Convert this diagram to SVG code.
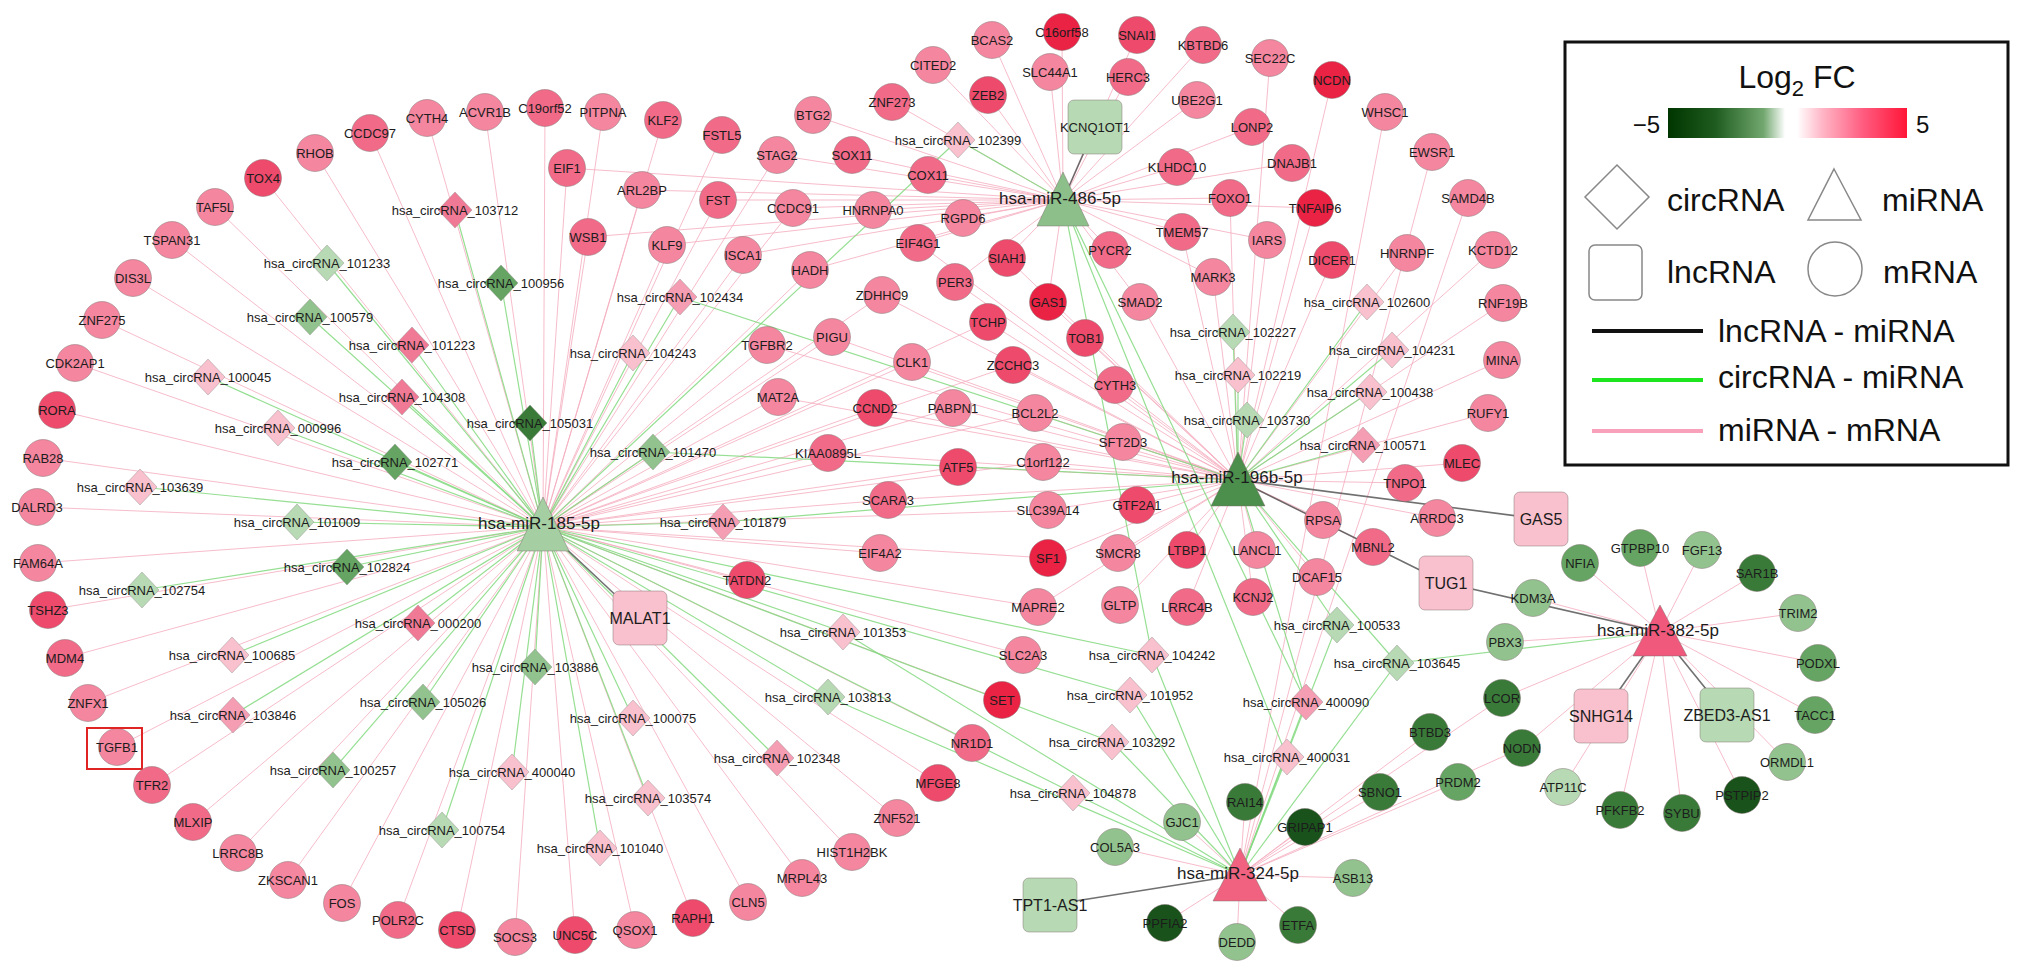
<svg xmlns="http://www.w3.org/2000/svg" xmlns:xlink="http://www.w3.org/1999/xlink" width="2032" height="975" viewBox="0 0 2032 975">
<defs>
<style>
.m{stroke:#7a6a6a;stroke-opacity:.45;stroke-width:1}
.r1{fill:#f8aabb}.r2{fill:#f4869f}.r3{fill:#f16a88}.r4{fill:#ee4a6b}.r5{fill:#ea2244}
.p1{fill:#f9c0cd}.p2{fill:#f59db2}.p3{fill:#f07a95}
.g1{fill:#b7d9b3}.g2{fill:#92c38e}.g3{fill:#65a462}.g4{fill:#3a7a39}.g5{fill:#1a521b}
text{font-family:"Liberation Sans",Arial,sans-serif;fill:#1c1c1c;text-anchor:middle}
.t{font-size:13px}
.tm{font-size:17px}
.tl{font-size:16px}
.e1{stroke:#f6adbf;stroke-width:1;opacity:.8}
.e2{stroke:#84da80;stroke-width:1.2;opacity:.85}
.e3{stroke:#4d4d4d;stroke-width:1.6;opacity:.8}
.lg{font-size:32px;fill:#111;text-anchor:start}
</style>
<polygon id="dia" points="0,-18 17,0 0,18 -17,0" stroke="#8a8a8a" stroke-opacity=".4"/>
<linearGradient id="fc" x1="0" x2="1" y1="0" y2="0">
<stop offset="0" stop-color="#003500"/><stop offset=".2" stop-color="#1f5c1f"/><stop offset=".4" stop-color="#72a86f"/><stop offset=".49" stop-color="#ffffff"/><stop offset=".54" stop-color="#ffffff"/><stop offset=".65" stop-color="#ffb3c4"/><stop offset=".82" stop-color="#ff5a7e"/><stop offset="1" stop-color="#ff1638"/>
</linearGradient>
</defs>
<rect width="2032" height="975" fill="#fff"/>
<g id="connectors">
<g id="mi185-mrna">
<line class="e1" x1="543" y1="527" x2="263" y2="178"/><line class="e1" x1="543" y1="527" x2="315" y2="153"/><line class="e1" x1="543" y1="527" x2="370" y2="133"/><line class="e1" x1="543" y1="527" x2="427" y2="118"/><line class="e1" x1="543" y1="527" x2="485" y2="112"/><line class="e1" x1="543" y1="527" x2="545" y2="108"/><line class="e1" x1="543" y1="527" x2="603" y2="112"/><line class="e1" x1="543" y1="527" x2="663" y2="120"/><line class="e1" x1="543" y1="527" x2="722" y2="135"/><line class="e1" x1="543" y1="527" x2="215" y2="207"/><line class="e1" x1="543" y1="527" x2="172" y2="240"/><line class="e1" x1="543" y1="527" x2="133" y2="278"/><line class="e1" x1="543" y1="527" x2="102" y2="320"/><line class="e1" x1="543" y1="527" x2="75" y2="363"/><line class="e1" x1="543" y1="527" x2="57" y2="410"/><line class="e1" x1="543" y1="527" x2="43" y2="458"/><line class="e1" x1="543" y1="527" x2="37" y2="507"/><line class="e1" x1="543" y1="527" x2="38" y2="563"/><line class="e1" x1="543" y1="527" x2="48" y2="610"/><line class="e1" x1="543" y1="527" x2="65" y2="658"/><line class="e1" x1="543" y1="527" x2="88" y2="703"/><line class="e1" x1="543" y1="527" x2="117" y2="747"/><line class="e1" x1="543" y1="527" x2="152" y2="785"/><line class="e1" x1="543" y1="527" x2="193" y2="822"/><line class="e1" x1="543" y1="527" x2="238" y2="853"/><line class="e1" x1="543" y1="527" x2="288" y2="880"/><line class="e1" x1="543" y1="527" x2="342" y2="903"/><line class="e1" x1="543" y1="527" x2="398" y2="920"/><line class="e1" x1="543" y1="527" x2="457" y2="930"/><line class="e1" x1="543" y1="527" x2="515" y2="937"/><line class="e1" x1="543" y1="527" x2="575" y2="935"/><line class="e1" x1="543" y1="527" x2="635" y2="930"/><line class="e1" x1="543" y1="527" x2="693" y2="918"/><line class="e1" x1="543" y1="527" x2="748" y2="902"/><line class="e1" x1="543" y1="527" x2="802" y2="878"/><line class="e1" x1="543" y1="527" x2="852" y2="852"/><line class="e1" x1="543" y1="527" x2="897" y2="818"/><line class="e1" x1="543" y1="527" x2="938" y2="783"/><line class="e1" x1="543" y1="527" x2="972" y2="743"/><line class="e1" x1="543" y1="527" x2="1002" y2="700"/><line class="e1" x1="543" y1="527" x2="1023" y2="655"/><line class="e1" x1="543" y1="527" x2="567" y2="168"/><line class="e1" x1="543" y1="527" x2="588" y2="237"/><line class="e1" x1="543" y1="527" x2="642" y2="190"/><line class="e1" x1="543" y1="527" x2="667" y2="245"/><line class="e1" x1="543" y1="527" x2="718" y2="200"/><line class="e1" x1="543" y1="527" x2="743" y2="255"/><line class="e1" x1="543" y1="527" x2="777" y2="155"/><line class="e1" x1="543" y1="527" x2="793" y2="208"/><line class="e1" x1="543" y1="527" x2="810" y2="270"/><line class="e1" x1="543" y1="527" x2="767" y2="345"/><line class="e1" x1="543" y1="527" x2="832" y2="337"/><line class="e1" x1="543" y1="527" x2="912" y2="362"/><line class="e1" x1="543" y1="527" x2="778" y2="397"/><line class="e1" x1="543" y1="527" x2="875" y2="408"/><line class="e1" x1="543" y1="527" x2="953" y2="408"/><line class="e1" x1="543" y1="527" x2="828" y2="453"/><line class="e1" x1="543" y1="527" x2="958" y2="467"/><line class="e1" x1="543" y1="527" x2="888" y2="500"/><line class="e1" x1="543" y1="527" x2="880" y2="553"/><line class="e1" x1="543" y1="527" x2="747" y2="580"/><line class="e1" x1="543" y1="527" x2="1013" y2="365"/><line class="e1" x1="543" y1="527" x2="1035" y2="413"/><line class="e1" x1="543" y1="527" x2="1043" y2="462"/><line class="e1" x1="543" y1="527" x2="1048" y2="510"/><line class="e1" x1="543" y1="527" x2="1048" y2="558"/><line class="e1" x1="543" y1="527" x2="1038" y2="607"/><line class="e1" x1="543" y1="527" x2="882" y2="295"/><line class="e1" x1="543" y1="527" x2="988" y2="322"/>
</g>
<g id="mi486-mrna">
<line class="e1" x1="1063" y1="200" x2="1062" y2="32"/><line class="e1" x1="1063" y1="200" x2="1137" y2="35"/><line class="e1" x1="1063" y1="200" x2="1203" y2="45"/><line class="e1" x1="1063" y1="200" x2="1050" y2="72"/><line class="e1" x1="1063" y1="200" x2="1128" y2="77"/><line class="e1" x1="1063" y1="200" x2="1197" y2="100"/><line class="e1" x1="1063" y1="200" x2="1252" y2="127"/><line class="e1" x1="1063" y1="200" x2="1177" y2="167"/><line class="e1" x1="1063" y1="200" x2="1292" y2="163"/><line class="e1" x1="1063" y1="200" x2="1230" y2="198"/><line class="e1" x1="1063" y1="200" x2="1315" y2="208"/><line class="e1" x1="1063" y1="200" x2="1182" y2="232"/><line class="e1" x1="1063" y1="200" x2="1267" y2="240"/><line class="e1" x1="1063" y1="200" x2="1110" y2="250"/><line class="e1" x1="1063" y1="200" x2="1213" y2="277"/><line class="e1" x1="1063" y1="200" x2="1048" y2="302"/><line class="e1" x1="1063" y1="200" x2="1140" y2="302"/><line class="e1" x1="1063" y1="200" x2="1007" y2="258"/><line class="e1" x1="1063" y1="200" x2="992" y2="40"/><line class="e1" x1="1063" y1="200" x2="933" y2="65"/><line class="e1" x1="1063" y1="200" x2="988" y2="95"/><line class="e1" x1="1063" y1="200" x2="892" y2="102"/><line class="e1" x1="1063" y1="200" x2="928" y2="175"/><line class="e1" x1="1063" y1="200" x2="963" y2="218"/><line class="e1" x1="1063" y1="200" x2="852" y2="155"/><line class="e1" x1="1063" y1="200" x2="813" y2="115"/><line class="e1" x1="1063" y1="200" x2="918" y2="243"/><line class="e1" x1="1063" y1="200" x2="873" y2="210"/><line class="e1" x1="1063" y1="200" x2="567" y2="168"/><line class="e1" x1="1063" y1="200" x2="642" y2="190"/><line class="e1" x1="1063" y1="200" x2="588" y2="237"/><line class="e1" x1="1063" y1="200" x2="667" y2="245"/><line class="e1" x1="1063" y1="200" x2="718" y2="200"/><line class="e1" x1="1063" y1="200" x2="793" y2="208"/><line class="e1" x1="1063" y1="200" x2="777" y2="155"/><line class="e1" x1="1063" y1="200" x2="955" y2="282"/><line class="e1" x1="1063" y1="200" x2="743" y2="255"/><line class="e1" x1="1063" y1="200" x2="810" y2="270"/>
</g>
<g id="mi196-mrna">
<line class="e1" x1="1238" y1="480" x2="1493" y2="250"/><line class="e1" x1="1238" y1="480" x2="1407" y2="253"/><line class="e1" x1="1238" y1="480" x2="1332" y2="260"/><line class="e1" x1="1238" y1="480" x2="1503" y2="303"/><line class="e1" x1="1238" y1="480" x2="1502" y2="360"/><line class="e1" x1="1238" y1="480" x2="1488" y2="413"/><line class="e1" x1="1238" y1="480" x2="1462" y2="463"/><line class="e1" x1="1238" y1="480" x2="1405" y2="483"/><line class="e1" x1="1238" y1="480" x2="1437" y2="518"/><line class="e1" x1="1238" y1="480" x2="1323" y2="520"/><line class="e1" x1="1238" y1="480" x2="1373" y2="547"/><line class="e1" x1="1238" y1="480" x2="1317" y2="577"/><line class="e1" x1="1238" y1="480" x2="1253" y2="597"/><line class="e1" x1="1238" y1="480" x2="1257" y2="550"/><line class="e1" x1="1238" y1="480" x2="1187" y2="550"/><line class="e1" x1="1238" y1="480" x2="1187" y2="607"/><line class="e1" x1="1238" y1="480" x2="1120" y2="605"/><line class="e1" x1="1238" y1="480" x2="1118" y2="553"/><line class="e1" x1="1238" y1="480" x2="1137" y2="505"/><line class="e1" x1="1238" y1="480" x2="1048" y2="558"/><line class="e1" x1="1238" y1="480" x2="1048" y2="510"/><line class="e1" x1="1238" y1="480" x2="1043" y2="462"/><line class="e1" x1="1238" y1="480" x2="1123" y2="442"/><line class="e1" x1="1238" y1="480" x2="1035" y2="413"/><line class="e1" x1="1238" y1="480" x2="1115" y2="385"/><line class="e1" x1="1238" y1="480" x2="1085" y2="338"/><line class="e1" x1="1238" y1="480" x2="1013" y2="365"/><line class="e1" x1="1238" y1="480" x2="1038" y2="607"/><line class="e1" x1="1238" y1="480" x2="988" y2="322"/><line class="e1" x1="1238" y1="480" x2="1007" y2="258"/><line class="e1" x1="1238" y1="480" x2="955" y2="282"/><line class="e1" x1="1238" y1="480" x2="912" y2="362"/><line class="e1" x1="1238" y1="480" x2="953" y2="408"/><line class="e1" x1="1238" y1="480" x2="958" y2="467"/><line class="e1" x1="1238" y1="480" x2="875" y2="408"/><line class="e1" x1="1238" y1="480" x2="888" y2="500"/><line class="e1" x1="1238" y1="480" x2="828" y2="453"/><line class="e1" x1="1238" y1="480" x2="832" y2="337"/><line class="e1" x1="1238" y1="480" x2="767" y2="345"/><line class="e1" x1="1238" y1="480" x2="778" y2="397"/><line class="e1" x1="1238" y1="480" x2="882" y2="295"/><line class="e1" x1="1238" y1="480" x2="1267" y2="240"/><line class="e1" x1="1238" y1="480" x2="1213" y2="277"/><line class="e1" x1="1238" y1="480" x2="1230" y2="198"/><line class="e1" x1="1238" y1="480" x2="1182" y2="232"/><line class="e1" x1="1238" y1="480" x2="1315" y2="208"/><line class="e1" x1="1238" y1="480" x2="1332" y2="80"/><line class="e1" x1="1238" y1="480" x2="1270" y2="58"/><line class="e1" x1="1238" y1="480" x2="1048" y2="302"/><line class="e1" x1="1238" y1="480" x2="1140" y2="302"/><line class="e1" x1="1238" y1="480" x2="918" y2="243"/>
</g>
<g id="mi324-mrna">
<line class="e1" x1="1240" y1="875" x2="1385" y2="112"/><line class="e1" x1="1240" y1="875" x2="1432" y2="152"/><line class="e1" x1="1240" y1="875" x2="1468" y2="198"/><line class="e1" x1="1240" y1="875" x2="1245" y2="802"/><line class="e1" x1="1240" y1="875" x2="1182" y2="822"/><line class="e1" x1="1240" y1="875" x2="1115" y2="847"/><line class="e1" x1="1240" y1="875" x2="1353" y2="878"/><line class="e1" x1="1240" y1="875" x2="1165" y2="923"/><line class="e1" x1="1240" y1="875" x2="1237" y2="942"/><line class="e1" x1="1240" y1="875" x2="1298" y2="925"/><line class="e1" x1="1240" y1="875" x2="1305" y2="827"/><line class="e1" x1="1240" y1="875" x2="1380" y2="792"/><line class="e1" x1="1240" y1="875" x2="1458" y2="782"/><line class="e1" x1="1240" y1="875" x2="1430" y2="732"/><line class="e1" x1="1240" y1="875" x2="1502" y2="698"/><line class="e1" x1="1240" y1="875" x2="1522" y2="748"/>
</g>
<g id="mi382-mrna">
<line class="e1" x1="1660" y1="632" x2="1580" y2="563"/><line class="e1" x1="1660" y1="632" x2="1640" y2="548"/><line class="e1" x1="1660" y1="632" x2="1702" y2="550"/><line class="e1" x1="1660" y1="632" x2="1757" y2="573"/><line class="e1" x1="1660" y1="632" x2="1798" y2="613"/><line class="e1" x1="1660" y1="632" x2="1818" y2="663"/><line class="e1" x1="1660" y1="632" x2="1815" y2="715"/><line class="e1" x1="1660" y1="632" x2="1787" y2="762"/><line class="e1" x1="1660" y1="632" x2="1742" y2="795"/><line class="e1" x1="1660" y1="632" x2="1682" y2="813"/><line class="e1" x1="1660" y1="632" x2="1620" y2="810"/><line class="e1" x1="1660" y1="632" x2="1563" y2="787"/><line class="e1" x1="1660" y1="632" x2="1533" y2="598"/><line class="e1" x1="1660" y1="632" x2="1505" y2="642"/><line class="e1" x1="1660" y1="632" x2="1522" y2="748"/><line class="e1" x1="1660" y1="632" x2="1502" y2="698"/>
</g>
<g id="circ-mirna">
<line class="e2" x1="543" y1="527" x2="455" y2="210"/><line class="e2" x1="543" y1="527" x2="327" y2="263"/><line class="e2" x1="543" y1="527" x2="501" y2="283"/><line class="e2" x1="543" y1="527" x2="310" y2="317"/><line class="e2" x1="543" y1="527" x2="412" y2="345"/><line class="e2" x1="543" y1="527" x2="208" y2="377"/><line class="e2" x1="543" y1="527" x2="402" y2="397"/><line class="e2" x1="543" y1="527" x2="530" y2="423"/><line class="e2" x1="543" y1="527" x2="278" y2="428"/><line class="e2" x1="543" y1="527" x2="395" y2="462"/><line class="e2" x1="543" y1="527" x2="140" y2="487"/><line class="e2" x1="543" y1="527" x2="297" y2="522"/><line class="e2" x1="543" y1="527" x2="347" y2="567"/><line class="e2" x1="543" y1="527" x2="142" y2="590"/><line class="e2" x1="543" y1="527" x2="418" y2="623"/><line class="e2" x1="543" y1="527" x2="232" y2="655"/><line class="e2" x1="543" y1="527" x2="535" y2="667"/><line class="e2" x1="543" y1="527" x2="233" y2="715"/><line class="e2" x1="543" y1="527" x2="423" y2="702"/><line class="e2" x1="543" y1="527" x2="333" y2="770"/><line class="e2" x1="543" y1="527" x2="512" y2="772"/><line class="e2" x1="543" y1="527" x2="442" y2="830"/><line class="e2" x1="543" y1="527" x2="633" y2="718"/><line class="e2" x1="543" y1="527" x2="648" y2="798"/><line class="e2" x1="543" y1="527" x2="600" y2="848"/><line class="e2" x1="543" y1="527" x2="777" y2="758"/><line class="e2" x1="543" y1="527" x2="828" y2="697"/><line class="e2" x1="543" y1="527" x2="843" y2="632"/><line class="e2" x1="543" y1="527" x2="723" y2="522"/><line class="e2" x1="543" y1="527" x2="653" y2="452"/><line class="e2" x1="543" y1="527" x2="633" y2="353"/><line class="e2" x1="543" y1="527" x2="680" y2="297"/><line class="e2" x1="543" y1="527" x2="958" y2="140"/><line class="e2" x1="543" y1="527" x2="1152" y2="655"/><line class="e2" x1="543" y1="527" x2="1130" y2="695"/><line class="e2" x1="543" y1="527" x2="1112" y2="742"/><line class="e2" x1="543" y1="527" x2="1073" y2="793"/>
<line class="e2" x1="1238" y1="480" x2="1233" y2="332"/><line class="e2" x1="1238" y1="480" x2="1238" y2="375"/><line class="e2" x1="1238" y1="480" x2="1247" y2="420"/><line class="e2" x1="1238" y1="480" x2="1392" y2="350"/><line class="e2" x1="1238" y1="480" x2="1370" y2="392"/><line class="e2" x1="1238" y1="480" x2="1363" y2="445"/><line class="e2" x1="1238" y1="480" x2="1367" y2="302"/><line class="e2" x1="1238" y1="480" x2="1337" y2="625"/><line class="e2" x1="1238" y1="480" x2="1397" y2="663"/><line class="e2" x1="1238" y1="480" x2="1306" y2="702"/><line class="e2" x1="1238" y1="480" x2="723" y2="522"/><line class="e2" x1="1238" y1="480" x2="653" y2="452"/><line class="e2" x1="1238" y1="480" x2="680" y2="297"/>
<line class="e2" x1="1063" y1="200" x2="958" y2="140"/><line class="e2" x1="1063" y1="200" x2="1152" y2="655"/><line class="e2" x1="1063" y1="200" x2="1306" y2="702"/><line class="e2" x1="1063" y1="200" x2="1287" y2="757"/>
<line class="e2" x1="1240" y1="875" x2="828" y2="697"/><line class="e2" x1="1240" y1="875" x2="843" y2="632"/><line class="e2" x1="1240" y1="875" x2="1337" y2="625"/><line class="e2" x1="1240" y1="875" x2="1397" y2="663"/><line class="e2" x1="1240" y1="875" x2="1152" y2="655"/><line class="e2" x1="1240" y1="875" x2="1130" y2="695"/><line class="e2" x1="1240" y1="875" x2="1112" y2="742"/><line class="e2" x1="1240" y1="875" x2="1073" y2="793"/><line class="e2" x1="1240" y1="875" x2="1306" y2="702"/><line class="e2" x1="1240" y1="875" x2="1287" y2="757"/>
<line class="e2" x1="1660" y1="632" x2="1397" y2="663"/>
</g>
<g id="lnc-mirna">
<line class="e3" x1="543" y1="527" x2="640" y2="618"/><line class="e3" x1="1063" y1="200" x2="1095" y2="127"/><line class="e3" x1="1238" y1="480" x2="1541" y2="519"/><line class="e3" x1="1238" y1="480" x2="1446" y2="583"/><line class="e3" x1="1660" y1="632" x2="1446" y2="583"/><line class="e3" x1="1660" y1="632" x2="1601" y2="716"/><line class="e3" x1="1660" y1="632" x2="1727" y2="715"/><line class="e3" x1="1240" y1="875" x2="1050" y2="905"/>
</g>
</g>
<g id="lncRNAs">
<g id="KCNQ1OT1"><rect class="m g1" x="1068" y="100" width="54" height="54" rx="6"/><text class="t" x="1095" y="131.5">KCNQ1OT1</text></g>
<g id="MALAT1"><rect class="m p1" x="613" y="591" width="54" height="54" rx="6"/><text class="tl" x="640" y="624">MALAT1</text></g>
<g id="GAS5"><rect class="m p1" x="1514" y="492" width="54" height="54" rx="6"/><text class="tl" x="1541" y="525">GAS5</text></g>
<g id="TUG1"><rect class="m p1" x="1419" y="556" width="54" height="54" rx="6"/><text class="tl" x="1446" y="589">TUG1</text></g>
<g id="SNHG14"><rect class="m p1" x="1574" y="689" width="54" height="54" rx="6"/><text class="tl" x="1601" y="722">SNHG14</text></g>
<g id="ZBED3-AS1"><rect class="m g1" x="1700" y="688" width="54" height="54" rx="6"/><text class="tl" x="1727" y="721">ZBED3-AS1</text></g>
<g id="TPT1-AS1"><rect class="m g1" x="1023" y="878" width="54" height="54" rx="6"/><text class="tl" x="1050" y="911">TPT1-AS1</text></g>
</g>
<g id="mRNAs">
<g id="TOX4"><circle class="m r4" cx="263" cy="178" r="18.5"/><text class="t" x="263" y="182.5">TOX4</text></g>
<g id="RHOB"><circle class="m r2" cx="315" cy="153" r="18.5"/><text class="t" x="315" y="157.5">RHOB</text></g>
<g id="CCDC97"><circle class="m r3" cx="370" cy="133" r="18.5"/><text class="t" x="370" y="137.5">CCDC97</text></g>
<g id="CYTH4"><circle class="m r2" cx="427" cy="118" r="18.5"/><text class="t" x="427" y="122.5">CYTH4</text></g>
<g id="ACVR1B"><circle class="m r2" cx="485" cy="112" r="18.5"/><text class="t" x="485" y="116.5">ACVR1B</text></g>
<g id="C19orf52"><circle class="m r3" cx="545" cy="108" r="18.5"/><text class="t" x="545" y="112.5">C19orf52</text></g>
<g id="PITPNA"><circle class="m r2" cx="603" cy="112" r="18.5"/><text class="t" x="603" y="116.5">PITPNA</text></g>
<g id="KLF2"><circle class="m r3" cx="663" cy="120" r="18.5"/><text class="t" x="663" y="124.5">KLF2</text></g>
<g id="FSTL5"><circle class="m r3" cx="722" cy="135" r="18.5"/><text class="t" x="722" y="139.5">FSTL5</text></g>
<g id="TAF5L"><circle class="m r2" cx="215" cy="207" r="18.5"/><text class="t" x="215" y="211.5">TAF5L</text></g>
<g id="TSPAN31"><circle class="m r2" cx="172" cy="240" r="18.5"/><text class="t" x="172" y="244.5">TSPAN31</text></g>
<g id="DIS3L"><circle class="m r2" cx="133" cy="278" r="18.5"/><text class="t" x="133" y="282.5">DIS3L</text></g>
<g id="ZNF275"><circle class="m r2" cx="102" cy="320" r="18.5"/><text class="t" x="102" y="324.5">ZNF275</text></g>
<g id="CDK2AP1"><circle class="m r2" cx="75" cy="363" r="18.5"/><text class="t" x="75" y="367.5">CDK2AP1</text></g>
<g id="RORA"><circle class="m r4" cx="57" cy="410" r="18.5"/><text class="t" x="57" y="414.5">RORA</text></g>
<g id="RAB28"><circle class="m r2" cx="43" cy="458" r="18.5"/><text class="t" x="43" y="462.5">RAB28</text></g>
<g id="DALRD3"><circle class="m r2" cx="37" cy="507" r="18.5"/><text class="t" x="37" y="511.5">DALRD3</text></g>
<g id="FAM64A"><circle class="m r2" cx="38" cy="563" r="18.5"/><text class="t" x="38" y="567.5">FAM64A</text></g>
<g id="TSHZ3"><circle class="m r4" cx="48" cy="610" r="18.5"/><text class="t" x="48" y="614.5">TSHZ3</text></g>
<g id="MDM4"><circle class="m r3" cx="65" cy="658" r="18.5"/><text class="t" x="65" y="662.5">MDM4</text></g>
<g id="ZNFX1"><circle class="m r2" cx="88" cy="703" r="18.5"/><text class="t" x="88" y="707.5">ZNFX1</text></g>
<g id="TGFB1"><circle class="m r2" cx="117" cy="747" r="18.5"/><text class="t" x="117" y="751.5">TGFB1</text><rect x="87" y="728" width="55" height="41" fill="none" stroke="#e02424" stroke-width="2"/></g>
<g id="TFR2"><circle class="m r3" cx="152" cy="785" r="18.5"/><text class="t" x="152" y="789.5">TFR2</text></g>
<g id="MLXIP"><circle class="m r3" cx="193" cy="822" r="18.5"/><text class="t" x="193" y="826.5">MLXIP</text></g>
<g id="LRRC8B"><circle class="m r2" cx="238" cy="853" r="18.5"/><text class="t" x="238" y="857.5">LRRC8B</text></g>
<g id="ZKSCAN1"><circle class="m r2" cx="288" cy="880" r="18.5"/><text class="t" x="288" y="884.5">ZKSCAN1</text></g>
<g id="FOS"><circle class="m r2" cx="342" cy="903" r="18.5"/><text class="t" x="342" y="907.5">FOS</text></g>
<g id="POLR2C"><circle class="m r3" cx="398" cy="920" r="18.5"/><text class="t" x="398" y="924.5">POLR2C</text></g>
<g id="CTSD"><circle class="m r4" cx="457" cy="930" r="18.5"/><text class="t" x="457" y="934.5">CTSD</text></g>
<g id="SOCS3"><circle class="m r2" cx="515" cy="937" r="18.5"/><text class="t" x="515" y="941.5">SOCS3</text></g>
<g id="UNC5C"><circle class="m r4" cx="575" cy="935" r="18.5"/><text class="t" x="575" y="939.5">UNC5C</text></g>
<g id="QSOX1"><circle class="m r2" cx="635" cy="930" r="18.5"/><text class="t" x="635" y="934.5">QSOX1</text></g>
<g id="RAPH1"><circle class="m r4" cx="693" cy="918" r="18.5"/><text class="t" x="693" y="922.5">RAPH1</text></g>
<g id="CLN5"><circle class="m r2" cx="748" cy="902" r="18.5"/><text class="t" x="748" y="906.5">CLN5</text></g>
<g id="MRPL43"><circle class="m r2" cx="802" cy="878" r="18.5"/><text class="t" x="802" y="882.5">MRPL43</text></g>
<g id="HIST1H2BK"><circle class="m r2" cx="852" cy="852" r="18.5"/><text class="t" x="852" y="856.5">HIST1H2BK</text></g>
<g id="ZNF521"><circle class="m r2" cx="897" cy="818" r="18.5"/><text class="t" x="897" y="822.5">ZNF521</text></g>
<g id="MFGE8"><circle class="m r4" cx="938" cy="783" r="18.5"/><text class="t" x="938" y="787.5">MFGE8</text></g>
<g id="NR1D1"><circle class="m r3" cx="972" cy="743" r="18.5"/><text class="t" x="972" y="747.5">NR1D1</text></g>
<g id="SET"><circle class="m r5" cx="1002" cy="700" r="18.5"/><text class="t" x="1002" y="704.5">SET</text></g>
<g id="SLC2A3"><circle class="m r2" cx="1023" cy="655" r="18.5"/><text class="t" x="1023" y="659.5">SLC2A3</text></g>
<g id="EIF1"><circle class="m r3" cx="567" cy="168" r="18.5"/><text class="t" x="567" y="172.5">EIF1</text></g>
<g id="WSB1"><circle class="m r3" cx="588" cy="237" r="18.5"/><text class="t" x="588" y="241.5">WSB1</text></g>
<g id="ARL2BP"><circle class="m r2" cx="642" cy="190" r="18.5"/><text class="t" x="642" y="194.5">ARL2BP</text></g>
<g id="KLF9"><circle class="m r2" cx="667" cy="245" r="18.5"/><text class="t" x="667" y="249.5">KLF9</text></g>
<g id="FST"><circle class="m r3" cx="718" cy="200" r="18.5"/><text class="t" x="718" y="204.5">FST</text></g>
<g id="ISCA1"><circle class="m r2" cx="743" cy="255" r="18.5"/><text class="t" x="743" y="259.5">ISCA1</text></g>
<g id="STAG2"><circle class="m r2" cx="777" cy="155" r="18.5"/><text class="t" x="777" y="159.5">STAG2</text></g>
<g id="CCDC91"><circle class="m r2" cx="793" cy="208" r="18.5"/><text class="t" x="793" y="212.5">CCDC91</text></g>
<g id="HADH"><circle class="m r2" cx="810" cy="270" r="18.5"/><text class="t" x="810" y="274.5">HADH</text></g>
<g id="BTG2"><circle class="m r2" cx="813" cy="115" r="18.5"/><text class="t" x="813" y="119.5">BTG2</text></g>
<g id="SOX11"><circle class="m r3" cx="852" cy="155" r="18.5"/><text class="t" x="852" y="159.5">SOX11</text></g>
<g id="HNRNPA0"><circle class="m r2" cx="873" cy="210" r="18.5"/><text class="t" x="873" y="214.5">HNRNPA0</text></g>
<g id="ZDHHC9"><circle class="m r2" cx="882" cy="295" r="18.5"/><text class="t" x="882" y="299.5">ZDHHC9</text></g>
<g id="ZNF273"><circle class="m r3" cx="892" cy="102" r="18.5"/><text class="t" x="892" y="106.5">ZNF273</text></g>
<g id="EIF4G1"><circle class="m r3" cx="918" cy="243" r="18.5"/><text class="t" x="918" y="247.5">EIF4G1</text></g>
<g id="COX11"><circle class="m r3" cx="928" cy="175" r="18.5"/><text class="t" x="928" y="179.5">COX11</text></g>
<g id="CITED2"><circle class="m r2" cx="933" cy="65" r="18.5"/><text class="t" x="933" y="69.5">CITED2</text></g>
<g id="PER3"><circle class="m r3" cx="955" cy="282" r="18.5"/><text class="t" x="955" y="286.5">PER3</text></g>
<g id="RGPD6"><circle class="m r2" cx="963" cy="218" r="18.5"/><text class="t" x="963" y="222.5">RGPD6</text></g>
<g id="ZEB2"><circle class="m r4" cx="988" cy="95" r="18.5"/><text class="t" x="988" y="99.5">ZEB2</text></g>
<g id="BCAS2"><circle class="m r2" cx="992" cy="40" r="18.5"/><text class="t" x="992" y="44.5">BCAS2</text></g>
<g id="TCHP"><circle class="m r4" cx="988" cy="322" r="18.5"/><text class="t" x="988" y="326.5">TCHP</text></g>
<g id="SIAH1"><circle class="m r4" cx="1007" cy="258" r="18.5"/><text class="t" x="1007" y="262.5">SIAH1</text></g>
<g id="TGFBR2"><circle class="m r2" cx="767" cy="345" r="18.5"/><text class="t" x="767" y="349.5">TGFBR2</text></g>
<g id="PIGU"><circle class="m r2" cx="832" cy="337" r="18.5"/><text class="t" x="832" y="341.5">PIGU</text></g>
<g id="CLK1"><circle class="m r2" cx="912" cy="362" r="18.5"/><text class="t" x="912" y="366.5">CLK1</text></g>
<g id="MAT2A"><circle class="m r2" cx="778" cy="397" r="18.5"/><text class="t" x="778" y="401.5">MAT2A</text></g>
<g id="CCND2"><circle class="m r4" cx="875" cy="408" r="18.5"/><text class="t" x="875" y="412.5">CCND2</text></g>
<g id="PABPN1"><circle class="m r2" cx="953" cy="408" r="18.5"/><text class="t" x="953" y="412.5">PABPN1</text></g>
<g id="KIAA0895L"><circle class="m r3" cx="828" cy="453" r="18.5"/><text class="t" x="828" y="457.5">KIAA0895L</text></g>
<g id="ATF5"><circle class="m r4" cx="958" cy="467" r="18.5"/><text class="t" x="958" y="471.5">ATF5</text></g>
<g id="SCARA3"><circle class="m r3" cx="888" cy="500" r="18.5"/><text class="t" x="888" y="504.5">SCARA3</text></g>
<g id="EIF4A2"><circle class="m r2" cx="880" cy="553" r="18.5"/><text class="t" x="880" y="557.5">EIF4A2</text></g>
<g id="TATDN2"><circle class="m r4" cx="747" cy="580" r="18.5"/><text class="t" x="747" y="584.5">TATDN2</text></g>
<g id="ZCCHC3"><circle class="m r4" cx="1013" cy="365" r="18.5"/><text class="t" x="1013" y="369.5">ZCCHC3</text></g>
<g id="BCL2L2"><circle class="m r2" cx="1035" cy="413" r="18.5"/><text class="t" x="1035" y="417.5">BCL2L2</text></g>
<g id="C1orf122"><circle class="m r2" cx="1043" cy="462" r="18.5"/><text class="t" x="1043" y="466.5">C1orf122</text></g>
<g id="SLC39A14"><circle class="m r2" cx="1048" cy="510" r="18.5"/><text class="t" x="1048" y="514.5">SLC39A14</text></g>
<g id="SF1"><circle class="m r5" cx="1048" cy="558" r="18.5"/><text class="t" x="1048" y="562.5">SF1</text></g>
<g id="MAPRE2"><circle class="m r2" cx="1038" cy="607" r="18.5"/><text class="t" x="1038" y="611.5">MAPRE2</text></g>
<g id="TOB1"><circle class="m r4" cx="1085" cy="338" r="18.5"/><text class="t" x="1085" y="342.5">TOB1</text></g>
<g id="CYTH3"><circle class="m r3" cx="1115" cy="385" r="18.5"/><text class="t" x="1115" y="389.5">CYTH3</text></g>
<g id="SFT2D3"><circle class="m r2" cx="1123" cy="442" r="18.5"/><text class="t" x="1123" y="446.5">SFT2D3</text></g>
<g id="GTF2A1"><circle class="m r4" cx="1137" cy="505" r="18.5"/><text class="t" x="1137" y="509.5">GTF2A1</text></g>
<g id="SMCR8"><circle class="m r2" cx="1118" cy="553" r="18.5"/><text class="t" x="1118" y="557.5">SMCR8</text></g>
<g id="GLTP"><circle class="m r2" cx="1120" cy="605" r="18.5"/><text class="t" x="1120" y="609.5">GLTP</text></g>
<g id="LTBP1"><circle class="m r4" cx="1187" cy="550" r="18.5"/><text class="t" x="1187" y="554.5">LTBP1</text></g>
<g id="LRRC4B"><circle class="m r3" cx="1187" cy="607" r="18.5"/><text class="t" x="1187" y="611.5">LRRC4B</text></g>
<g id="LANCL1"><circle class="m r2" cx="1257" cy="550" r="18.5"/><text class="t" x="1257" y="554.5">LANCL1</text></g>
<g id="KCNJ2"><circle class="m r3" cx="1253" cy="597" r="18.5"/><text class="t" x="1253" y="601.5">KCNJ2</text></g>
<g id="DCAF15"><circle class="m r2" cx="1317" cy="577" r="18.5"/><text class="t" x="1317" y="581.5">DCAF15</text></g>
<g id="RPSA"><circle class="m r2" cx="1323" cy="520" r="18.5"/><text class="t" x="1323" y="524.5">RPSA</text></g>
<g id="MBNL2"><circle class="m r3" cx="1373" cy="547" r="18.5"/><text class="t" x="1373" y="551.5">MBNL2</text></g>
<g id="TNPO1"><circle class="m r3" cx="1405" cy="483" r="18.5"/><text class="t" x="1405" y="487.5">TNPO1</text></g>
<g id="ARRDC3"><circle class="m r2" cx="1437" cy="518" r="18.5"/><text class="t" x="1437" y="522.5">ARRDC3</text></g>
<g id="MLEC"><circle class="m r4" cx="1462" cy="463" r="18.5"/><text class="t" x="1462" y="467.5">MLEC</text></g>
<g id="RUFY1"><circle class="m r2" cx="1488" cy="413" r="18.5"/><text class="t" x="1488" y="417.5">RUFY1</text></g>
<g id="MINA"><circle class="m r2" cx="1502" cy="360" r="18.5"/><text class="t" x="1502" y="364.5">MINA</text></g>
<g id="RNF19B"><circle class="m r2" cx="1503" cy="303" r="18.5"/><text class="t" x="1503" y="307.5">RNF19B</text></g>
<g id="KCTD12"><circle class="m r2" cx="1493" cy="250" r="18.5"/><text class="t" x="1493" y="254.5">KCTD12</text></g>
<g id="HNRNPF"><circle class="m r2" cx="1407" cy="253" r="18.5"/><text class="t" x="1407" y="257.5">HNRNPF</text></g>
<g id="SAMD4B"><circle class="m r2" cx="1468" cy="198" r="18.5"/><text class="t" x="1468" y="202.5">SAMD4B</text></g>
<g id="EWSR1"><circle class="m r2" cx="1432" cy="152" r="18.5"/><text class="t" x="1432" y="156.5">EWSR1</text></g>
<g id="WHSC1"><circle class="m r2" cx="1385" cy="112" r="18.5"/><text class="t" x="1385" y="116.5">WHSC1</text></g>
<g id="DICER1"><circle class="m r4" cx="1332" cy="260" r="18.5"/><text class="t" x="1332" y="264.5">DICER1</text></g>
<g id="TNFAIP6"><circle class="m r5" cx="1315" cy="208" r="18.5"/><text class="t" x="1315" y="212.5">TNFAIP6</text></g>
<g id="DNAJB1"><circle class="m r3" cx="1292" cy="163" r="18.5"/><text class="t" x="1292" y="167.5">DNAJB1</text></g>
<g id="NCDN"><circle class="m r5" cx="1332" cy="80" r="18.5"/><text class="t" x="1332" y="84.5">NCDN</text></g>
<g id="SEC22C"><circle class="m r2" cx="1270" cy="58" r="18.5"/><text class="t" x="1270" y="62.5">SEC22C</text></g>
<g id="LONP2"><circle class="m r3" cx="1252" cy="127" r="18.5"/><text class="t" x="1252" y="131.5">LONP2</text></g>
<g id="IARS"><circle class="m r2" cx="1267" cy="240" r="18.5"/><text class="t" x="1267" y="244.5">IARS</text></g>
<g id="FOXO1"><circle class="m r3" cx="1230" cy="198" r="18.5"/><text class="t" x="1230" y="202.5">FOXO1</text></g>
<g id="MARK3"><circle class="m r2" cx="1213" cy="277" r="18.5"/><text class="t" x="1213" y="281.5">MARK3</text></g>
<g id="TMEM57"><circle class="m r3" cx="1182" cy="232" r="18.5"/><text class="t" x="1182" y="236.5">TMEM57</text></g>
<g id="KLHDC10"><circle class="m r3" cx="1177" cy="167" r="18.5"/><text class="t" x="1177" y="171.5">KLHDC10</text></g>
<g id="UBE2G1"><circle class="m r2" cx="1197" cy="100" r="18.5"/><text class="t" x="1197" y="104.5">UBE2G1</text></g>
<g id="KBTBD6"><circle class="m r3" cx="1203" cy="45" r="18.5"/><text class="t" x="1203" y="49.5">KBTBD6</text></g>
<g id="SNAI1"><circle class="m r4" cx="1137" cy="35" r="18.5"/><text class="t" x="1137" y="39.5">SNAI1</text></g>
<g id="C16orf58"><circle class="m r5" cx="1062" cy="32" r="18.5"/><text class="t" x="1062" y="36.5">C16orf58</text></g>
<g id="SLC44A1"><circle class="m r2" cx="1050" cy="72" r="18.5"/><text class="t" x="1050" y="76.5">SLC44A1</text></g>
<g id="HERC3"><circle class="m r3" cx="1128" cy="77" r="18.5"/><text class="t" x="1128" y="81.5">HERC3</text></g>
<g id="PYCR2"><circle class="m r3" cx="1110" cy="250" r="18.5"/><text class="t" x="1110" y="254.5">PYCR2</text></g>
<g id="SMAD2"><circle class="m r2" cx="1140" cy="302" r="18.5"/><text class="t" x="1140" y="306.5">SMAD2</text></g>
<g id="GAS1"><circle class="m r5" cx="1048" cy="302" r="18.5"/><text class="t" x="1048" y="306.5">GAS1</text></g>
<g id="PBX3"><circle class="m g2" cx="1505" cy="642" r="18.5"/><text class="t" x="1505" y="646.5">PBX3</text></g>
<g id="KDM3A"><circle class="m g2" cx="1533" cy="598" r="18.5"/><text class="t" x="1533" y="602.5">KDM3A</text></g>
<g id="NFIA"><circle class="m g3" cx="1580" cy="563" r="18.5"/><text class="t" x="1580" y="567.5">NFIA</text></g>
<g id="GTPBP10"><circle class="m g3" cx="1640" cy="548" r="18.5"/><text class="t" x="1640" y="552.5">GTPBP10</text></g>
<g id="FGF13"><circle class="m g2" cx="1702" cy="550" r="18.5"/><text class="t" x="1702" y="554.5">FGF13</text></g>
<g id="SAR1B"><circle class="m g4" cx="1757" cy="573" r="18.5"/><text class="t" x="1757" y="577.5">SAR1B</text></g>
<g id="TRIM2"><circle class="m g2" cx="1798" cy="613" r="18.5"/><text class="t" x="1798" y="617.5">TRIM2</text></g>
<g id="PODXL"><circle class="m g3" cx="1818" cy="663" r="18.5"/><text class="t" x="1818" y="667.5">PODXL</text></g>
<g id="TACC1"><circle class="m g3" cx="1815" cy="715" r="18.5"/><text class="t" x="1815" y="719.5">TACC1</text></g>
<g id="ORMDL1"><circle class="m g2" cx="1787" cy="762" r="18.5"/><text class="t" x="1787" y="766.5">ORMDL1</text></g>
<g id="PSTPIP2"><circle class="m g5" cx="1742" cy="795" r="18.5"/><text class="t" x="1742" y="799.5">PSTPIP2</text></g>
<g id="SYBU"><circle class="m g4" cx="1682" cy="813" r="18.5"/><text class="t" x="1682" y="817.5">SYBU</text></g>
<g id="PFKFB2"><circle class="m g4" cx="1620" cy="810" r="18.5"/><text class="t" x="1620" y="814.5">PFKFB2</text></g>
<g id="ATP11C"><circle class="m g1" cx="1563" cy="787" r="18.5"/><text class="t" x="1563" y="791.5">ATP11C</text></g>
<g id="NODN"><circle class="m g4" cx="1522" cy="748" r="18.5"/><text class="t" x="1522" y="752.5">NODN</text></g>
<g id="LCOR"><circle class="m g4" cx="1502" cy="698" r="18.5"/><text class="t" x="1502" y="702.5">LCOR</text></g>
<g id="BTBD3"><circle class="m g4" cx="1430" cy="732" r="18.5"/><text class="t" x="1430" y="736.5">BTBD3</text></g>
<g id="PRDM2"><circle class="m g3" cx="1458" cy="782" r="18.5"/><text class="t" x="1458" y="786.5">PRDM2</text></g>
<g id="SBNO1"><circle class="m g4" cx="1380" cy="792" r="18.5"/><text class="t" x="1380" y="796.5">SBNO1</text></g>
<g id="GRIPAP1"><circle class="m g5" cx="1305" cy="827" r="18.5"/><text class="t" x="1305" y="831.5">GRIPAP1</text></g>
<g id="RAI14"><circle class="m g4" cx="1245" cy="802" r="18.5"/><text class="t" x="1245" y="806.5">RAI14</text></g>
<g id="GJC1"><circle class="m g2" cx="1182" cy="822" r="18.5"/><text class="t" x="1182" y="826.5">GJC1</text></g>
<g id="COL5A3"><circle class="m g2" cx="1115" cy="847" r="18.5"/><text class="t" x="1115" y="851.5">COL5A3</text></g>
<g id="ASB13"><circle class="m g2" cx="1353" cy="878" r="18.5"/><text class="t" x="1353" y="882.5">ASB13</text></g>
<g id="PPFIA2"><circle class="m g5" cx="1165" cy="923" r="18.5"/><text class="t" x="1165" y="927.5">PPFIA2</text></g>
<g id="DEDD"><circle class="m g2" cx="1237" cy="942" r="18.5"/><text class="t" x="1237" y="946.5">DEDD</text></g>
<g id="ETFA"><circle class="m g4" cx="1298" cy="925" r="18.5"/><text class="t" x="1298" y="929.5">ETFA</text></g>
</g>
<g id="circRNAs">
<g id="c103712"><use href="#dia" x="455" y="210" class="p3"/><text class="t" x="455" y="214.5">hsa_circRNA_103712</text></g>
<g id="c101233"><use href="#dia" x="327" y="263" class="g1"/><text class="t" x="327" y="267.5">hsa_circRNA_101233</text></g>
<g id="c100956"><use href="#dia" x="501" y="283" class="g3"/><text class="t" x="501" y="287.5">hsa_circRNA_100956</text></g>
<g id="c100579"><use href="#dia" x="310" y="317" class="g2"/><text class="t" x="310" y="321.5">hsa_circRNA_100579</text></g>
<g id="c101223"><use href="#dia" x="412" y="345" class="p3"/><text class="t" x="412" y="349.5">hsa_circRNA_101223</text></g>
<g id="c100045"><use href="#dia" x="208" y="377" class="p1"/><text class="t" x="208" y="381.5">hsa_circRNA_100045</text></g>
<g id="c104308"><use href="#dia" x="402" y="397" class="p3"/><text class="t" x="402" y="401.5">hsa_circRNA_104308</text></g>
<g id="c105031"><use href="#dia" x="530" y="423" class="g4"/><text class="t" x="530" y="427.5">hsa_circRNA_105031</text></g>
<g id="c000996"><use href="#dia" x="278" y="428" class="p1"/><text class="t" x="278" y="432.5">hsa_circRNA_000996</text></g>
<g id="c102771"><use href="#dia" x="395" y="462" class="g3"/><text class="t" x="395" y="466.5">hsa_circRNA_102771</text></g>
<g id="c103639"><use href="#dia" x="140" y="487" class="p1"/><text class="t" x="140" y="491.5">hsa_circRNA_103639</text></g>
<g id="c101009"><use href="#dia" x="297" y="522" class="g1"/><text class="t" x="297" y="526.5">hsa_circRNA_101009</text></g>
<g id="c102824"><use href="#dia" x="347" y="567" class="g3"/><text class="t" x="347" y="571.5">hsa_circRNA_102824</text></g>
<g id="c102754"><use href="#dia" x="142" y="590" class="g1"/><text class="t" x="142" y="594.5">hsa_circRNA_102754</text></g>
<g id="c000200"><use href="#dia" x="418" y="623" class="p3"/><text class="t" x="418" y="627.5">hsa_circRNA_000200</text></g>
<g id="c100685"><use href="#dia" x="232" y="655" class="p1"/><text class="t" x="232" y="659.5">hsa_circRNA_100685</text></g>
<g id="c103886"><use href="#dia" x="535" y="667" class="g2"/><text class="t" x="535" y="671.5">hsa_circRNA_103886</text></g>
<g id="c103846"><use href="#dia" x="233" y="715" class="p2"/><text class="t" x="233" y="719.5">hsa_circRNA_103846</text></g>
<g id="c105026"><use href="#dia" x="423" y="702" class="g2"/><text class="t" x="423" y="706.5">hsa_circRNA_105026</text></g>
<g id="c100257"><use href="#dia" x="333" y="770" class="g2"/><text class="t" x="333" y="774.5">hsa_circRNA_100257</text></g>
<g id="c400040"><use href="#dia" x="512" y="772" class="p1"/><text class="t" x="512" y="776.5">hsa_circRNA_400040</text></g>
<g id="c100754"><use href="#dia" x="442" y="830" class="g1"/><text class="t" x="442" y="834.5">hsa_circRNA_100754</text></g>
<g id="c100075"><use href="#dia" x="633" y="718" class="p1"/><text class="t" x="633" y="722.5">hsa_circRNA_100075</text></g>
<g id="c103574"><use href="#dia" x="648" y="798" class="p1"/><text class="t" x="648" y="802.5">hsa_circRNA_103574</text></g>
<g id="c101040"><use href="#dia" x="600" y="848" class="p1"/><text class="t" x="600" y="852.5">hsa_circRNA_101040</text></g>
<g id="c102348"><use href="#dia" x="777" y="758" class="p2"/><text class="t" x="777" y="762.5">hsa_circRNA_102348</text></g>
<g id="c103813"><use href="#dia" x="828" y="697" class="g1"/><text class="t" x="828" y="701.5">hsa_circRNA_103813</text></g>
<g id="c101353"><use href="#dia" x="843" y="632" class="p1"/><text class="t" x="843" y="636.5">hsa_circRNA_101353</text></g>
<g id="c101879"><use href="#dia" x="723" y="522" class="p2"/><text class="t" x="723" y="526.5">hsa_circRNA_101879</text></g>
<g id="c101470"><use href="#dia" x="653" y="452" class="g2"/><text class="t" x="653" y="456.5">hsa_circRNA_101470</text></g>
<g id="c104243"><use href="#dia" x="633" y="353" class="p1"/><text class="t" x="633" y="357.5">hsa_circRNA_104243</text></g>
<g id="c102434"><use href="#dia" x="680" y="297" class="p2"/><text class="t" x="680" y="301.5">hsa_circRNA_102434</text></g>
<g id="c102399"><use href="#dia" x="958" y="140" class="p1"/><text class="t" x="958" y="144.5">hsa_circRNA_102399</text></g>
<g id="c102227"><use href="#dia" x="1233" y="332" class="g1"/><text class="t" x="1233" y="336.5">hsa_circRNA_102227</text></g>
<g id="c102219"><use href="#dia" x="1238" y="375" class="p1"/><text class="t" x="1238" y="379.5">hsa_circRNA_102219</text></g>
<g id="c103730"><use href="#dia" x="1247" y="420" class="g1"/><text class="t" x="1247" y="424.5">hsa_circRNA_103730</text></g>
<g id="c104231"><use href="#dia" x="1392" y="350" class="p1"/><text class="t" x="1392" y="354.5">hsa_circRNA_104231</text></g>
<g id="c100438"><use href="#dia" x="1370" y="392" class="p1"/><text class="t" x="1370" y="396.5">hsa_circRNA_100438</text></g>
<g id="c100571"><use href="#dia" x="1363" y="445" class="p2"/><text class="t" x="1363" y="449.5">hsa_circRNA_100571</text></g>
<g id="c102600"><use href="#dia" x="1367" y="302" class="p1"/><text class="t" x="1367" y="306.5">hsa_circRNA_102600</text></g>
<g id="c100533"><use href="#dia" x="1337" y="625" class="g1"/><text class="t" x="1337" y="629.5">hsa_circRNA_100533</text></g>
<g id="c103645"><use href="#dia" x="1397" y="663" class="g1"/><text class="t" x="1397" y="667.5">hsa_circRNA_103645</text></g>
<g id="c104242"><use href="#dia" x="1152" y="655" class="p1"/><text class="t" x="1152" y="659.5">hsa_circRNA_104242</text></g>
<g id="c101952"><use href="#dia" x="1130" y="695" class="p1"/><text class="t" x="1130" y="699.5">hsa_circRNA_101952</text></g>
<g id="c103292"><use href="#dia" x="1112" y="742" class="p1"/><text class="t" x="1112" y="746.5">hsa_circRNA_103292</text></g>
<g id="c104878"><use href="#dia" x="1073" y="793" class="p1"/><text class="t" x="1073" y="797.5">hsa_circRNA_104878</text></g>
<g id="c400090"><use href="#dia" x="1306" y="702" class="p2"/><text class="t" x="1306" y="706.5">hsa_circRNA_400090</text></g>
<g id="c400031"><use href="#dia" x="1287" y="757" class="p1"/><text class="t" x="1287" y="761.5">hsa_circRNA_400031</text></g>
</g>
<g id="miRNAs">
<g id="miR-185-5p"><polygon class="m" fill="#a5cfa2" points="543,497 569,551 517,551"/><text class="tm" x="539" y="529">hsa-miR-185-5p</text></g>
<g id="miR-486-5p"><polygon class="m" fill="#8dbf8a" points="1063,172 1089,226 1037,226"/><text class="tm" x="1060" y="204">hsa-miR-486-5p</text></g>
<g id="miR-196b-5p"><polygon class="m" fill="#4c8f4c" points="1238,452 1265,506 1211,506"/><text class="tm" x="1237" y="483">hsa-miR-196b-5p</text></g>
<g id="miR-382-5p"><polygon class="m" fill="#f0587c" points="1660,605 1687,656 1633,656"/><text class="tm" x="1658" y="636">hsa-miR-382-5p</text></g>
<g id="miR-324-5p"><polygon class="m" fill="#f0627f" points="1240,848 1267,901 1213,901"/><text class="tm" x="1238" y="879">hsa-miR-324-5p</text></g>
</g>
<g id="legend">
<rect x="1565" y="42" width="443" height="423" fill="#fff" stroke="#111" stroke-width="3"/>
<text x="1797" y="88" style="font-size:32px;fill:#111">Log<tspan dy="8" style="font-size:22px">2</tspan><tspan dy="-8"> FC</tspan></text>
<rect x="1668" y="108" width="239" height="30" fill="url(#fc)"/>
<text x="1660" y="133" style="font-size:24px;fill:#111;text-anchor:end">−5</text>
<text x="1916" y="133" style="font-size:24px;fill:#111;text-anchor:start">5</text>
<polygon points="1617,165 1649,197 1617,229 1585,197" fill="#fff" stroke="#888" stroke-width="1.5"/>
<text class="lg" x="1667" y="211">circRNA</text>
<polygon points="1834,169 1861,220 1808,220" fill="#fff" stroke="#888" stroke-width="1.5"/>
<text class="lg" x="1882" y="211">miRNA</text>
<rect x="1589" y="245" width="53" height="55" rx="6" fill="#fff" stroke="#888" stroke-width="1.5"/>
<text class="lg" x="1667" y="283">lncRNA</text>
<circle cx="1835" cy="269" r="27" fill="#fff" stroke="#888" stroke-width="1.5"/>
<text class="lg" x="1883" y="283">mRNA</text>
<line x1="1592" y1="331" x2="1703" y2="331" stroke="#111" stroke-width="4"/>
<text class="lg" x="1718" y="342">lncRNA - miRNA</text>
<line x1="1592" y1="380" x2="1703" y2="380" stroke="#1ee61e" stroke-width="4"/>
<text class="lg" x="1718" y="388">circRNA - miRNA</text>
<line x1="1592" y1="431" x2="1703" y2="431" stroke="#f9a0bb" stroke-width="4"/>
<text class="lg" x="1718" y="441">miRNA - mRNA</text>
</g>
</svg>
